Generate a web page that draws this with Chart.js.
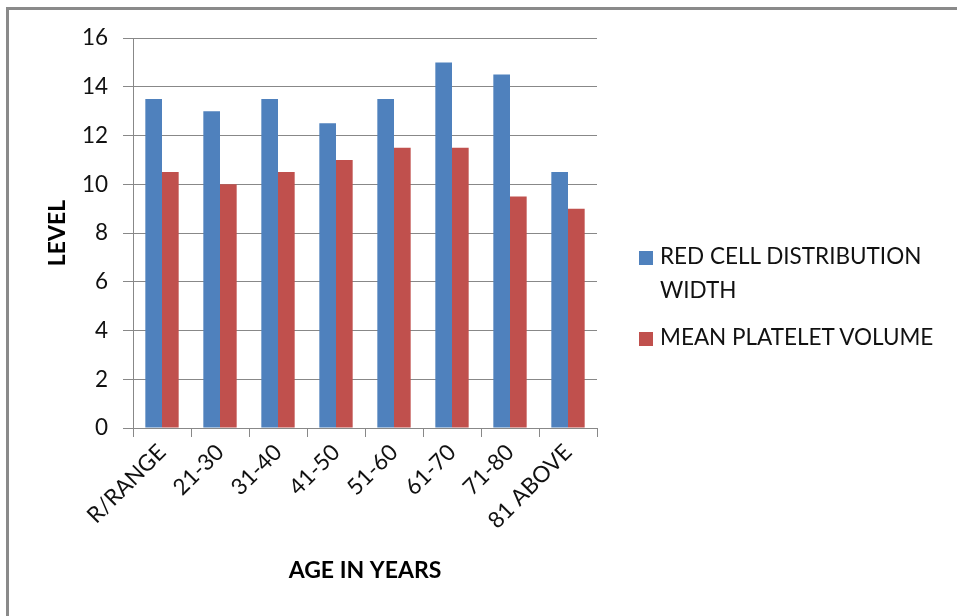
<!DOCTYPE html>
<html>
<head>
<meta charset="utf-8">
<script src="https://cdn.jsdelivr.net/npm/chart.js@4/dist/chart.umd.min.js"></script>
<style>
  html, body { margin: 0; padding: 0; background: #fff; }
  #wrap { position: relative; width: 957px; height: 616px; overflow: hidden; }
  #frame { position: absolute; left: 6px; top: 7px; right: -10px; bottom: -10px;
           border-left: 3px solid #8a8a8a; border-top: 3px solid #8a8a8a; }
  canvas { position: absolute; left: 0; top: 0; }
  .leg { position: absolute; font-family: Lato, sans-serif; font-size: 22.5px; color: #111; line-height: 34px; }
  .sw { position: absolute; width: 14px; height: 14px; }
</style>
</head>
<body>
<div id="wrap">
  <div id="frame"></div>
  <canvas id="c" width="957" height="616"></canvas>
  <div class="sw" style="left:639px; top:251px; background:#4F81BD;"></div>
  <div class="leg" id="l1" style="left:660px; top:239px;"></div>
  <div class="sw" style="left:639px; top:332px; background:#C0504D;"></div>
  <div class="leg" id="l2" style="left:660px; top:320px;"></div>
</div>
<script>
const categories = ["R/RANGE", "21-30", "31-40", "41-50", "51-60", "61-70", "71-80", "81 ABOVE"];
const seriesNames = ["RED CELL DISTRIBUTION WIDTH", "MEAN PLATELET VOLUME"];
const rdwValues = [13.5, 13, 13.5, 12.5, 13.5, 15, 14.5, 10.5];
const mpvValues = [10.5, 10, 10.5, 11, 11.5, 11.5, 9.5, 9];
const yTitle = "LEVEL";
const xTitle = "AGE IN YEARS";

document.getElementById('l1').innerHTML = "RED CELL DISTRIBUTION<br>WIDTH";
document.getElementById('l2').textContent = seriesNames[1];

const gridColor = '#888888';
const tickFont = { family: 'Lato, sans-serif', size: 22.5 };
const titleFont = { family: 'Lato, sans-serif', size: 23, weight: 'bold' };

new Chart(document.getElementById('c'), {
  type: 'bar',
  data: {
    labels: categories,
    datasets: [
      { label: seriesNames[0], data: rdwValues, backgroundColor: '#4F81BD',
        categoryPercentage: 0.575, barPercentage: 1.0 },
      { label: seriesNames[1], data: mpvValues, backgroundColor: '#C0504D',
        categoryPercentage: 0.575, barPercentage: 1.0 }
    ]
  },
  options: {
    responsive: false,
    animation: false,
    layout: { padding: { top: 38, right: 360, bottom: 0, left: 0 } },
    plugins: { legend: { display: false }, tooltip: { enabled: false } },
    scales: {
      x: {
        afterFit: (s) => { s.height = 188; },
        grid: { drawOnChartArea: false, drawTicks: true, tickLength: 9, color: gridColor, offset: true },
        border: { display: true, color: gridColor, width: 1 },
        ticks: { color: '#111', font: tickFont, minRotation: 45, maxRotation: 45, padding: 2 },
        title: { display: true, text: xTitle, color: '#000', font: titleFont, padding: { top: 0, bottom: 32 } }
      },
      y: {
        min: 0, max: 16,
        afterFit: (s) => { s.width = 133; },
        grid: { color: gridColor, tickLength: 10, drawTicks: true },
        border: { display: true, color: gridColor, width: 1 },
        ticks: { stepSize: 2, color: '#111', font: tickFont, padding: 15 },
        title: { display: true, text: yTitle, color: '#000', font: titleFont, padding: { top: 44, bottom: 0 } }
      }
    }
  }
});
</script>
</body>
</html>
